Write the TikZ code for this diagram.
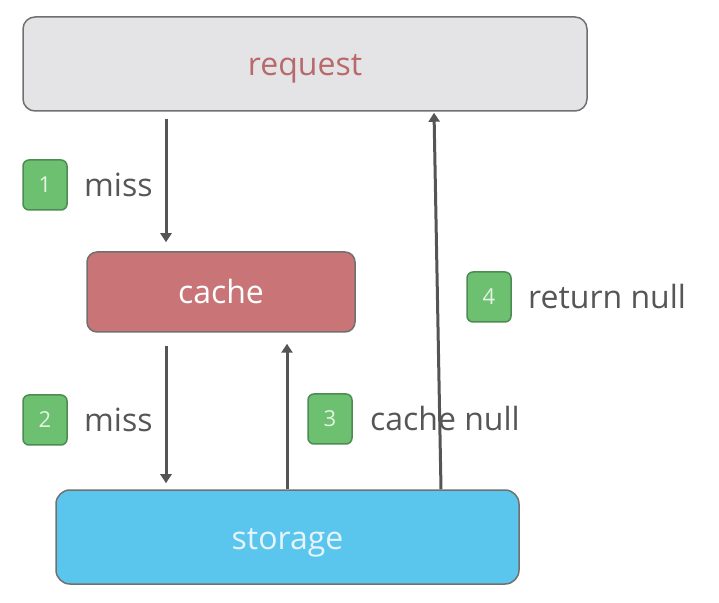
\documentclass[tikz,border=0pt]{standalone}
\usepackage{fontspec}
\setmainfont{Open Sans}
\usetikzlibrary{arrows.meta}
\definecolor{reqfill}{HTML}{E4E3E6}
\definecolor{reqtext}{HTML}{B86A6A}
\definecolor{cachefill}{HTML}{C97476}
\definecolor{storefill}{HTML}{5BC6ED}
\definecolor{storetext}{HTML}{E6F4FA}
\definecolor{edgegray}{HTML}{707070}
\definecolor{arrowgray}{HTML}{555555}
\definecolor{badgefill}{HTML}{6CC070}
\definecolor{badgeedge}{HTML}{4C8C53}
\definecolor{badgetext}{HTML}{E4F4E4}
\definecolor{labelgray}{HTML}{565656}
\tikzset{
  box/.style={draw=edgegray, line width=1.5pt, rounded corners=12pt,
    text height=24pt, text depth=0pt,
    font=\fontsize{32}{38}\selectfont},
  badge/.style={draw=badgeedge, fill=badgefill, line width=1.5pt,
    rounded corners=6pt, minimum width=44pt, minimum height=50pt,
    inner sep=0pt, text=badgetext, font=\fontsize{22}{26}\selectfont},
  steplabel/.style={anchor=west, inner sep=0pt, text=labelgray,
    font=\fontsize{32}{38}\selectfont},
  flow/.style={draw=arrowgray, line width=3pt,
    -{Triangle[width=11pt,length=9pt]}}
}
\begin{document}
\begin{tikzpicture}[x=1pt,y=1pt]
  \useasboundingbox (0,0) rectangle (719,602);
  % boxes
  \node[box, fill=reqfill, text=reqtext, minimum width=564pt, minimum height=94pt]
    (request) at (305,538) {request};
  \node[box, fill=cachefill, text=white, rounded corners=10pt,
    minimum width=268pt, minimum height=80pt] (cache) at (221,310) {cache};
  \node[box, fill=storefill, text=storetext, rounded corners=14pt,
    minimum width=463pt, minimum height=94pt] (storage) at (287.5,65) {storage};
  % columns of the arrows
  \coordinate (c1) at (166,0);
  \coordinate (c3) at (287,0);
  \coordinate (c4a) at (441,0);
  \coordinate (c4b) at (434,0);
  % arrows
  \draw[flow, shorten <=7pt, shorten >=9pt] (request.south -| c1) -- (cache.north -| c1);
  \draw[flow, shorten <=13pt, shorten >=6pt] (cache.south -| c1) -- (storage.north -| c1);
  \draw[flow, shorten >=11pt] (storage.north -| c3) -- (cache.south -| c3);
  \draw[flow, shorten >=1pt] (storage.north -| c4a) -- (request.south -| c4b);
  % step badges
  \node[badge] (b1) at (45,417) {1};
  \node[steplabel] (l1) at (84,417) {miss};
  \node[badge] (b2) at (45,182) {2};
  \node[steplabel] (l2) at (84,182) {miss};
  \node[badge] (b3) at (330,183) {3};
  \node[steplabel] (l3) at (370,183) {cache null};
  \node[badge] (b4) at (489,305) {4};
  \node[steplabel] (l4) at (528,305) {return null};
\end{tikzpicture}
\end{document}
